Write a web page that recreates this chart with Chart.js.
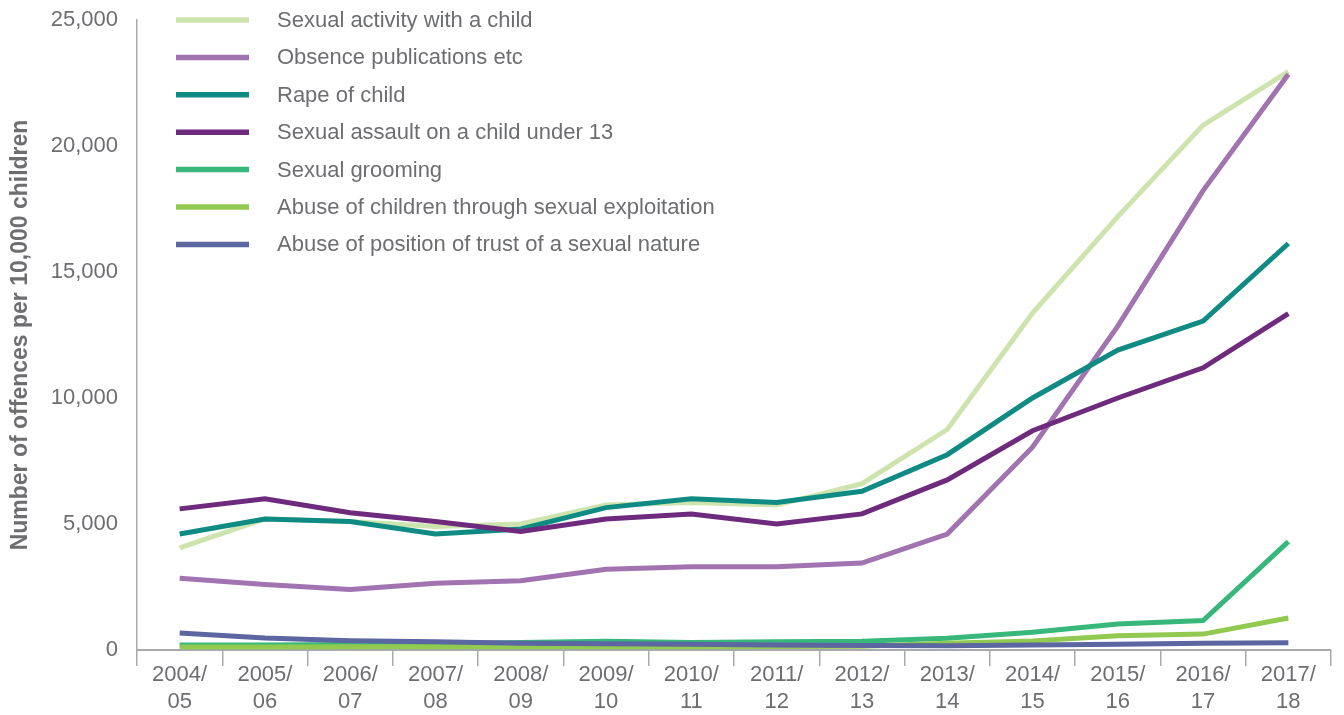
<!DOCTYPE html>
<html>
<head>
<meta charset="utf-8">
<script src="https://cdn.jsdelivr.net/npm/chart.js@4/dist/chart.umd.min.js"></script>
<style>
  html, body { margin: 0; padding: 0; background: #ffffff; }
  #wrap { position: relative; width: 1344px; height: 715px; }
</style>
</head>
<body>
<div id="wrap"><canvas id="c" width="1344" height="715"></canvas></div>
<script>
const categories = [
  ['2004/', '05'], ['2005/', '06'], ['2006/', '07'], ['2007/', '08'], ['2008/', '09'],
  ['2009/', '10'], ['2010/', '11'], ['2011/', '12'], ['2012/', '13'], ['2013/', '14'],
  ['2014/', '15'], ['2015/', '16'], ['2016/', '17'], ['2017/', '18']
];
const seriesNames = [
  'Sexual activity with a child',
  'Obsence publications etc',
  'Rape of child',
  'Sexual assault on a child under 13',
  'Sexual grooming',
  'Abuse of children through sexual exploitation',
  'Abuse of position of trust of a sexual nature'
];
const sexualActivity = [4050, 5200, 5100, 4900, 5000, 5750, 5850, 5750, 6600, 8750, 13370, 17200, 20830, 22950];
const obscenePublications = [2850, 2600, 2400, 2650, 2750, 3200, 3300, 3300, 3450, 4600, 8050, 12850, 18230, 22850];
const rapeOfChild = [4600, 5200, 5100, 4600, 4800, 5650, 6000, 5850, 6300, 7750, 10000, 11900, 13050, 16130];
const assaultUnder13 = [5600, 6000, 5450, 5100, 4700, 5200, 5400, 5000, 5400, 6750, 8700, 10000, 11200, 13350];
const sexualGrooming = [200, 200, 220, 250, 300, 350, 300, 330, 350, 470, 700, 1030, 1170, 4300];
const sexualExploitation = [120, 120, 130, 130, 130, 130, 130, 140, 150, 270, 360, 570, 630, 1270];
const positionOfTrust = [670, 480, 370, 330, 270, 250, 230, 200, 180, 170, 200, 230, 270, 290];
const yTicks = [0, 5000, 10000, 15000, 20000, 25000];

const seriesValues = [sexualActivity, obscenePublications, rapeOfChild, assaultUnder13,
                      sexualGrooming, sexualExploitation, positionOfTrust];
const seriesColors = ['#cde4ae', '#a173b1', '#108b84', '#6e2a7d', '#37b87a', '#92c951', '#5c66a0'];

const GREY = '#6d6e71';
const FONT = '"Liberation Sans", Arial, Helvetica, sans-serif';

const datasets = seriesNames.map((name, i) => ({
  label: name,
  data: seriesValues[i],
  borderColor: seriesColors[i],
  backgroundColor: seriesColors[i],
  borderWidth: 5,
  pointRadius: 0,
  tension: 0,
  fill: false,
  order: seriesNames.length - i
}));

const legendPlugin = {
  id: 'stackLegend',
  afterDraw(chart) {
    const ctx = chart.ctx;
    ctx.save();
    const x0 = 176, x1 = 249, tx = 277, y0 = 20, dy = 37.4;
    chart.data.datasets.forEach((ds, i) => {
      const y = y0 + i * dy;
      ctx.strokeStyle = ds.borderColor;
      ctx.lineWidth = 5.5;
      ctx.beginPath();
      ctx.moveTo(x0, y);
      ctx.lineTo(x1, y);
      ctx.stroke();
      ctx.fillStyle = GREY;
      ctx.font = '22px ' + FONT;
      ctx.textBaseline = 'middle';
      ctx.textAlign = 'left';
      ctx.fillText(ds.label, tx, y + 1);
    });
    ctx.restore();
  }
};

new Chart(document.getElementById('c'), {
  type: 'line',
  data: { labels: categories, datasets },
  plugins: [legendPlugin],
  options: {
    responsive: false,
    animation: false,
    devicePixelRatio: 1,
    layout: { padding: { top: 0, right: 13, left: 0, bottom: 0 } },
    plugins: { legend: { display: false }, tooltip: { enabled: false } },
    scales: {
      x: {
        offset: true,
        grid: { display: true, offset: true, drawOnChartArea: false, drawTicks: true, tickLength: 16, color: '#a7a9ac', lineWidth: 1.5 },
        border: { display: true, color: '#a7a9ac', width: 2 },
        ticks: { color: GREY, font: { family: FONT, size: 22, lineHeight: 1.2 }, padding: -4, maxRotation: 0, autoSkip: false },
        afterFit(scale) { scale.height = 65; scale.paddingLeft = 0; scale.paddingRight = 0; }
      },
      y: {
        min: 0, max: 25000,
        afterBuildTicks(scale) { scale.ticks = yTicks.map(v => ({ value: v })); },
        grid: { display: false, drawTicks: false },
        border: { display: true, color: '#a7a9ac', width: 1.5 },
        ticks: {
          color: GREY, font: { family: FONT, size: 22 }, padding: 19,
          callback: v => v.toLocaleString('en-US')
        },
        title: { display: true, text: 'Number of offences per 10,000 children', color: GREY,
                 font: { family: FONT, size: 23, weight: 'bold' }, padding: { top: 7, bottom: 0 } },
        afterFit(scale) { scale.width = 137; scale.paddingTop = 20; scale.paddingBottom = 0; }
      }
    }
  }
});
</script>
</body>
</html>
